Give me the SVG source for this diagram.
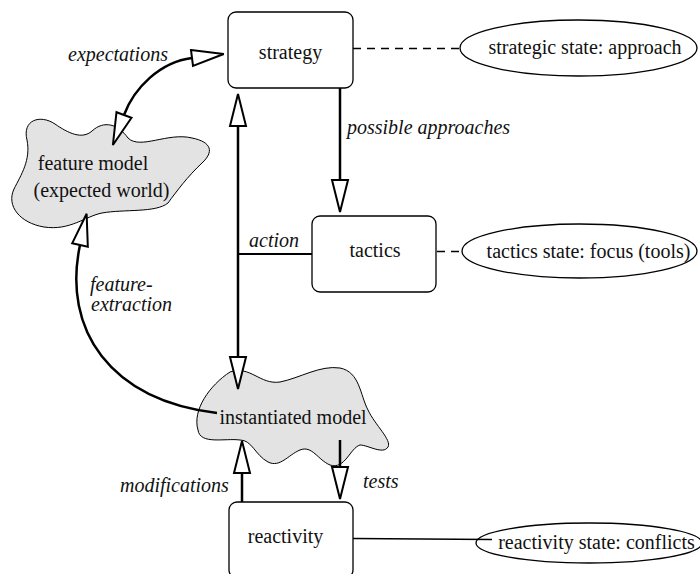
<svg xmlns="http://www.w3.org/2000/svg" width="700" height="574" viewBox="0 0 700 574">
  <style>
    .box { fill: #fff; stroke: #000; stroke-width: 1.3; }
    .cloud { fill: #e3e3e3; stroke: #000; stroke-width: 1; }
    .state { fill: #fff; stroke: #000; stroke-width: 1.3; }
    text { font-family: 'Liberation Serif', Tinos, 'Times New Roman', Times, serif; font-size: 20px; fill: #111; }
    .mid { text-anchor: middle; }
    .it { font-style: italic; }
    .flow { fill: none; stroke: #000; stroke-width: 2.5; }
    .link { fill: none; stroke: #000; stroke-width: 1.3; }
    .dash { stroke-dasharray: 8 6; }
  </style>
  <defs>
    <!-- open triangular head; the path end sits on the triangle's base -->
    <marker id="tri" markerUnits="userSpaceOnUse" markerWidth="34" markerHeight="18" refX="0" refY="0" orient="auto" overflow="visible">
      <path d="M0,-8 L32,0 L0,8 Z" fill="#fff" stroke="#000" stroke-width="2"/>
    </marker>
    <marker id="triStart" markerUnits="userSpaceOnUse" markerWidth="34" markerHeight="18" refX="0" refY="0" orient="auto-start-reverse" overflow="visible">
      <path d="M0,-8 L32,0 L0,8 Z" fill="#fff" stroke="#000" stroke-width="2"/>
    </marker>
  </defs>

  <rect width="700" height="574" fill="#fff"/>

  <g id="strategy">
    <rect class="box" x="228" y="12" width="125" height="76" rx="8"/>
    <text class="mid" x="290.5" y="59">strategy</text>
  </g>

  <g id="strategic-state">
    <ellipse class="state" cx="578.5" cy="48" rx="118.5" ry="28"/>
    <text class="mid" x="585" y="54">strategic state: approach</text>
  </g>

  <g id="tactics">
    <rect class="box" x="312" y="216" width="124" height="76" rx="8"/>
    <text class="mid" x="375" y="257">tactics</text>
  </g>

  <g id="tactics-state">
    <ellipse class="state" cx="579.5" cy="251" rx="117.5" ry="27"/>
    <text class="mid" x="588.5" y="258">tactics state: focus (tools)</text>
  </g>

  <g id="feature-model">
    <path class="cloud" d="M27,140 C22,120 40,114 55,124 C68,133 82,140 92,131 C104,120 118,124 128,138 C140,150 168,132 192,138 C212,142 214,152 202,163 C188,176 176,192 168,203 C156,213 124,209 102,213 C86,216 70,231 44,227 C20,223 6,206 14,189 C21,175 31,160 27,140 Z"/>
    <text class="mid" x="93" y="170">feature model</text>
    <text class="mid" x="101.5" y="197">(expected world)</text>
  </g>

  <g id="instantiated-model">
    <path class="cloud" d="M198,430 C192,410 210,385 230,372 C250,365 260,385 280,382 C300,378 320,365 340,368 C360,372 360,395 368,410 C375,425 392,440 388,447 C383,455 368,445 360,445 C350,448 345,470 330,465 C318,460 312,445 300,450 C288,455 280,468 268,462 C255,455 252,440 240,440 C225,438 200,445 198,430 Z"/>
    <text class="mid" x="293" y="424">instantiated model</text>
  </g>

  <g id="reactivity">
    <rect class="box" x="229" y="502" width="124" height="76" rx="8"/>
    <text class="mid" x="285.5" y="543">reactivity</text>
  </g>

  <g id="reactivity-state">
    <ellipse class="state" cx="589" cy="543" rx="113" ry="20"/>
    <text class="mid" x="596.5" y="549">reactivity state: conflicts</text>
  </g>

  <g id="connectors">
    <!-- state annotations -->
    <line class="link dash" x1="353" y1="48.5" x2="460" y2="48.5"/>
    <line class="link dash" x1="437" y1="251.5" x2="462" y2="251.5"/>
    <line class="link" x1="353" y1="538.5" x2="492" y2="539.5" stroke="#333"/>

    <!-- expectations: strategy <-> feature model -->
    <path class="flow" d="M124,115 C134,88 160,62 192,58" marker-start="url(#triStart)" marker-end="url(#tri)"/>
    <!-- action: strategy <-> instantiated model -->
    <path class="flow" d="M238,126 V357" marker-start="url(#triStart)" marker-end="url(#tri)"/>
    <line x1="238" y1="254" x2="312" y2="254" stroke="#000" stroke-width="2"/>
    <!-- possible approaches -->
    <path class="flow" d="M340,88 V180" marker-end="url(#tri)"/>
    <!-- feature extraction -->
    <path class="flow" d="M217,413 C110,400 62,330 80,245" marker-end="url(#tri)"/>
    <!-- modifications / tests -->
    <path class="flow" d="M242,502 V473" marker-end="url(#tri)"/>
    <path class="flow" d="M340,440 V467" marker-end="url(#tri)"/>
  </g>

  <g id="labels">
    <text class="it" x="68" y="61">expectations</text>
    <text class="it" x="347" y="134">possible approaches</text>
    <text class="it" x="249" y="247">action</text>
    <text class="it" x="90" y="291">feature-</text>
    <text class="it" x="91" y="311">extraction</text>
    <text class="it" x="120" y="492">modifications</text>
    <text class="it" x="363" y="488">tests</text>
  </g>
</svg>
